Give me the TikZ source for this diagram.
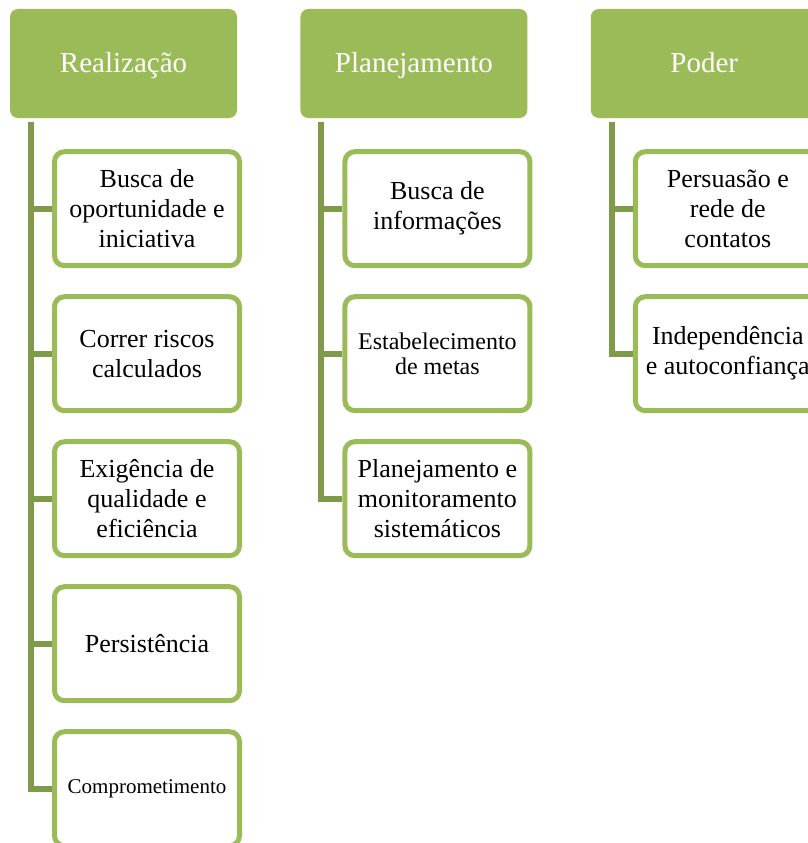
\documentclass[tikz,border=0pt]{standalone}
\usepackage{fontspec}
\setmainfont{Liberation Serif}
\usepackage{tikz}
\usetikzlibrary{positioning}
\usepackage{xcolor}
\definecolor{olivaclaro}{HTML}{9BBB59}
\definecolor{olivaescuro}{HTML}{7F9B4A}

\begin{document}
\begin{tikzpicture}[x=1pt, y=-1pt,
    % estilos
    headnode/.style={rectangle, rounded corners=8pt, fill=olivaclaro, text=white, inner sep=0pt, minimum width=227pt, minimum height=109pt, text height=22pt, text depth=3pt, font=\fontsize{29}{33}\selectfont},
    itemnode/.style={rectangle, rounded corners=10pt, draw=olivaclaro, fill=white, line width=5pt, inner sep=0pt, minimum width=185pt, minimum height=114pt, align=center, font=\fontsize{26}{30}\selectfont},
    smallnode/.style={itemnode, font=\fontsize{24}{25}\selectfont},
    tinynode/.style={itemnode, font=\fontsize{21}{24}\selectfont},
    trunk/.style={draw=olivaescuro, line width=6pt},
    node distance=26pt,
    ]
    \path[use as bounding box, clip] (0,0) rectangle (808,843);

    % cabecalhos
    \node[headnode] (hdrA) at (123.5,63.5) {Realização};
    \node[headnode] (hdrB) [right=63pt of hdrA] {Planejamento};
    \node[headnode] (hdrC) [right=63pt of hdrB] {Poder};

    % Realizacao
    \node[itemnode] (a1) [below=31pt of hdrA, xshift=23.5pt] {Busca de\\oportunidade e\\iniciativa};
    \node[itemnode] (a2) [below=of a1] {Correr riscos\\calculados};
    \node[itemnode] (a3) [below=of a2] {Exigência de\\qualidade e\\eficiência};
    \node[itemnode] (a4) [below=of a3] {Persistência};
    \node[tinynode] (a5) [below=of a4] {Comprometimento};

    % Planejamento
    \node[itemnode]  (b1) [below=31pt of hdrB, xshift=23.5pt] {Busca de\\informações};
    \node[smallnode] (b2) [below=of b1] {Estabelecimento\\de metas};
    \node[itemnode]  (b3) [below=of b2] {Planejamento e\\monitoramento\\sistemáticos};

    % Poder
    \node[itemnode] (c1) [below=31pt of hdrC, xshift=23.5pt] {Persuasão e\\rede de\\contatos};
    \node[itemnode] (c2) [below=of c1] {Independência\\e autoconfiança};

    %Lines
    \coordinate (tA) at ([xshift=-92.5pt, yshift=-4pt]hdrA.south);
    \coordinate (tB) at ([xshift=-92.5pt, yshift=-4pt]hdrB.south);
    \coordinate (tC) at ([xshift=-92.5pt, yshift=-4pt]hdrC.south);
    \draw[trunk] (tA) |- (a5.west);
    \draw[trunk] (tA |- a1.west) -- (a1.west);
    \draw[trunk] (tA |- a2.west) -- (a2.west);
    \draw[trunk] (tA |- a3.west) -- (a3.west);
    \draw[trunk] (tA |- a4.west) -- (a4.west);
    \draw[trunk] (tB) |- (b3.west);
    \draw[trunk] (tB |- b1.west) -- (b1.west);
    \draw[trunk] (tB |- b2.west) -- (b2.west);
    \draw[trunk] (tC) |- (c2.west);
    \draw[trunk] (tC |- c1.west) -- (c1.west);
\end{tikzpicture}
\end{document}
